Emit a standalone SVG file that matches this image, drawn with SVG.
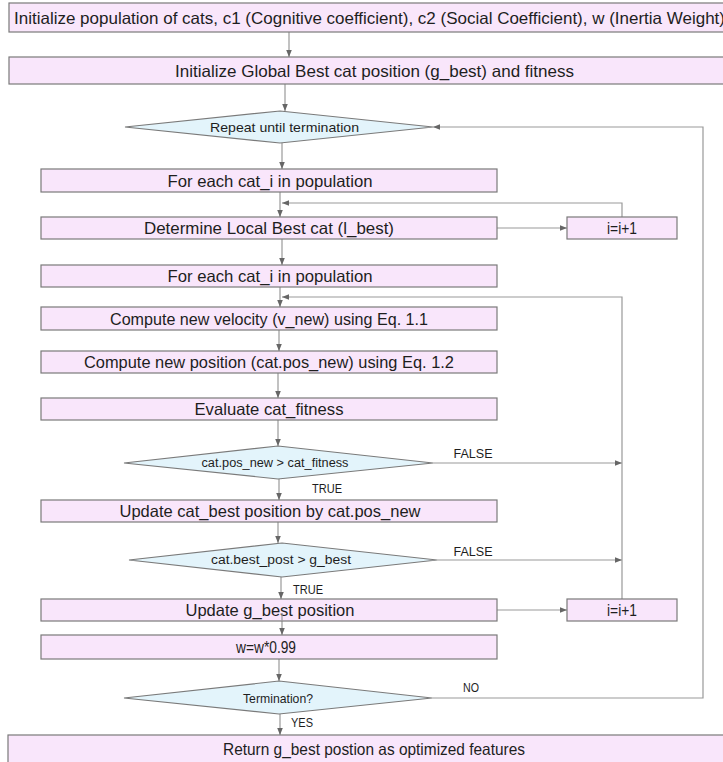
<svg xmlns="http://www.w3.org/2000/svg" width="723" height="762" viewBox="0 0 723 762">
<defs>
<style>
.box{fill:#F9E6FB;stroke:#7a7a7a;stroke-width:1.2}
.dia{fill:#E3F4FB;stroke:#7a7a7a;stroke-width:1.2}
.t{font-family:"Liberation Sans",Arial,sans-serif;font-size:16.5px;fill:#1e1e1e;text-anchor:middle;dominant-baseline:central}
.ts{font-family:"Liberation Sans",Arial,sans-serif;font-size:13px;fill:#1e1e1e;text-anchor:middle;dominant-baseline:central}
.lb{font-family:"Liberation Sans",Arial,sans-serif;font-size:13px;fill:#1e1e1e;text-anchor:middle;dominant-baseline:central}
.c{fill:none;stroke:#999;stroke-width:1.2}
</style>
<marker id="ah" viewBox="0 0 8 8" refX="8" refY="4" markerWidth="7" markerHeight="7" markerUnits="userSpaceOnUse" orient="auto">
<path d="M0,0.8 L8,4 L0,7.2 Z" fill="#666"/>
</marker>
</defs>
<rect width="723" height="762" fill="#fff"/>

<g id="connectors">
<path class="c" d="M289,32 V57" marker-end="url(#ah)"/>
<path class="c" d="M285,84 V111" marker-end="url(#ah)"/>
<path class="c" d="M282,143 V169" marker-end="url(#ah)"/>
<path class="c" d="M280,192 V217" marker-end="url(#ah)"/>
<path class="c" d="M282,239 V265" marker-end="url(#ah)"/>
<path class="c" d="M280,287 V307" marker-end="url(#ah)"/>
<path class="c" d="M279,330 V351" marker-end="url(#ah)"/>
<path class="c" d="M278,373 V398" marker-end="url(#ah)"/>
<path class="c" d="M278,420 V446" marker-end="url(#ah)"/>
<path class="c" d="M279,479 V500" marker-end="url(#ah)"/>
<path class="c" d="M278,522 V543" marker-end="url(#ah)"/>
<path class="c" d="M281,577 V599" marker-end="url(#ah)"/>
<path class="c" d="M282,613 V635" marker-end="url(#ah)"/>
<path class="c" d="M279,659 V681" marker-end="url(#ah)"/>
<path class="c" d="M280,714 V735" marker-end="url(#ah)"/>
<path class="c" d="M497,228 H567" marker-end="url(#ah)"/>
<path class="c" d="M622,217 V203 H282" marker-end="url(#ah)"/>
<path class="c" d="M433,463 H622" marker-end="url(#ah)"/>
<path class="c" d="M437,560 H622" marker-end="url(#ah)"/>
<path class="c" d="M497,610 H567" marker-end="url(#ah)"/>
<path class="c" d="M622,599 V297 H282" marker-end="url(#ah)"/>
<path class="c" d="M432,698 H703 V127 H433" marker-end="url(#ah)"/>
<text class="lb" x="473" y="453" textLength="39" lengthAdjust="spacingAndGlyphs">FALSE</text>
<text class="lb" x="327" y="488" textLength="30" lengthAdjust="spacingAndGlyphs">TRUE</text>
<text class="lb" x="473" y="551" textLength="39" lengthAdjust="spacingAndGlyphs">FALSE</text>
<text class="lb" x="308" y="589" textLength="30" lengthAdjust="spacingAndGlyphs">TRUE</text>
<text class="lb" x="471" y="687" textLength="16" lengthAdjust="spacingAndGlyphs">NO</text>
<text class="lb" x="302" y="722" textLength="22" lengthAdjust="spacingAndGlyphs">YES</text>
</g>

<g id="n1"><rect class="box" x="9" y="3" width="729" height="29"/><text class="t" x="14" y="17.5" style="text-anchor:start" textLength="711" lengthAdjust="spacingAndGlyphs">Initialize population of cats, c1 (Cognitive coefficient), c2 (Social Coefficient), w (Inertia Weight)</text></g>
<g id="n2"><rect class="box" x="9" y="57" width="729" height="27"/><text class="t" x="374.5" y="70.5" textLength="399" lengthAdjust="spacingAndGlyphs">Initialize Global Best cat position (g_best) and fitness</text></g>
<g id="d1"><polygon class="dia" points="280,111 433,127 280,143 125,127"/><text class="ts" x="284.5" y="127" textLength="149" lengthAdjust="spacingAndGlyphs">Repeat until termination</text></g>
<g id="n3"><rect class="box" x="41" y="169" width="456" height="23"/><text class="t" x="270" y="180.5" textLength="205" lengthAdjust="spacingAndGlyphs">For each cat_i in population</text></g>
<g id="n4"><rect class="box" x="41" y="217" width="456" height="22"/><text class="t" x="269" y="228" textLength="250" lengthAdjust="spacingAndGlyphs">Determine Local Best cat (l_best)</text></g>
<g id="i1"><rect class="box" x="567" y="217" width="110" height="22"/><text class="t" x="622" y="228" textLength="30" lengthAdjust="spacingAndGlyphs">i=i+1</text></g>
<g id="n5"><rect class="box" x="41" y="265" width="456" height="22"/><text class="t" x="270" y="276" textLength="205" lengthAdjust="spacingAndGlyphs">For each cat_i in population</text></g>
<g id="n6"><rect class="box" x="41" y="307" width="456" height="23"/><text class="t" x="269" y="318.5" textLength="318" lengthAdjust="spacingAndGlyphs">Compute new velocity (v_new) using Eq. 1.1</text></g>
<g id="n7"><rect class="box" x="41" y="351" width="456" height="22"/><text class="t" x="269" y="362" textLength="370" lengthAdjust="spacingAndGlyphs">Compute new position (cat.pos_new) using Eq. 1.2</text></g>
<g id="n8"><rect class="box" x="41" y="398" width="456" height="22"/><text class="t" x="269" y="409" textLength="149" lengthAdjust="spacingAndGlyphs">Evaluate cat_fitness</text></g>
<g id="d2"><polygon class="dia" points="278,446 433,463 278,479 124,463"/><text class="ts" x="275" y="463" style="font-size:12.5px" textLength="147" lengthAdjust="spacingAndGlyphs">cat.pos_new &gt; cat_fitness</text></g>
<g id="n9"><rect class="box" x="41" y="500" width="456" height="22"/><text class="t" x="270" y="511" textLength="301" lengthAdjust="spacingAndGlyphs">Update cat_best position by cat.pos_new</text></g>
<g id="d3"><polygon class="dia" points="282,543 437,560 282,577 129,560"/><text class="ts" x="281" y="560" style="font-size:12.5px" textLength="140" lengthAdjust="spacingAndGlyphs">cat.best_post &gt; g_best</text></g>
<g id="n10"><rect class="box" x="41" y="599" width="456" height="22"/><text class="t" x="270" y="610" textLength="169" lengthAdjust="spacingAndGlyphs">Update g_best position</text></g>
<g id="i2"><rect class="box" x="567" y="599" width="110" height="22"/><text class="t" x="622" y="610" textLength="30" lengthAdjust="spacingAndGlyphs">i=i+1</text></g>
<g id="n11"><rect class="box" x="41" y="635" width="456" height="24"/><text class="t" x="266" y="647" textLength="60" lengthAdjust="spacingAndGlyphs">w=w*0.99</text></g>
<g id="d4"><polygon class="dia" points="279,681 432,698 279,714 124,698"/><text class="ts" x="278" y="698" textLength="70" lengthAdjust="spacingAndGlyphs">Termination?</text></g>
<g id="n12"><rect class="box" x="8" y="735" width="730" height="30"/><text class="t" x="374" y="749" textLength="302" lengthAdjust="spacingAndGlyphs">Return g_best postion as optimized features</text></g>
<path class="c" d="M282,613 V621"/>
</svg>
